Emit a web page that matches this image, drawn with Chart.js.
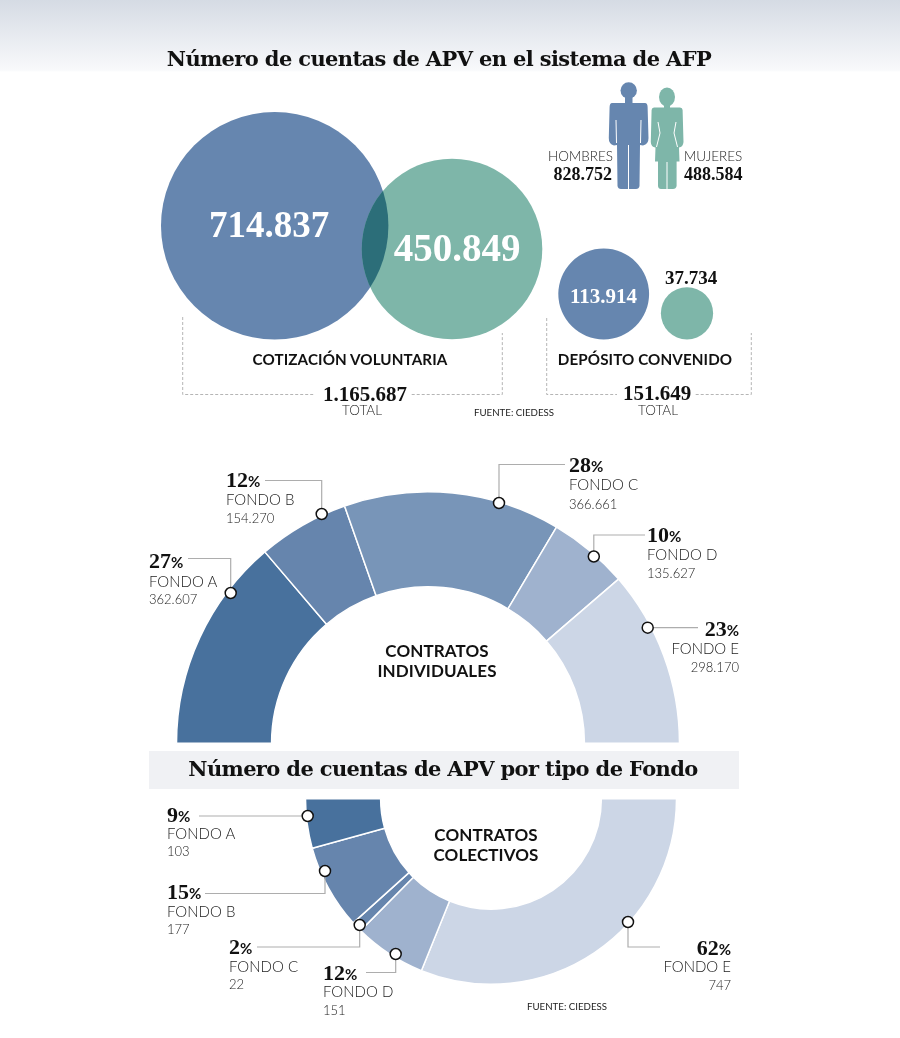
<!DOCTYPE html>
<html lang="es">
<head>
  <meta charset="UTF-8" />
  <title>Cuentas de APV</title>
  <script src="https://cdn.jsdelivr.net/npm/chart.js"></script>
  <style>
    html, body { margin: 0; padding: 0; background: #fff; }
    #page { position: relative; width: 900px; height: 1038px; overflow: hidden;
            background: linear-gradient(#d5dbe4 0, #f8f9fb 70px, #fff 72px) no-repeat; background-size: 100% 72px; }
    #band { position: absolute; left: 149px; top: 751px; width: 590px; height: 38px; background: #f0f1f4; }
    canvas { position: absolute; }
    .t { position: absolute; white-space: nowrap; line-height: 1; color: #111; font-family: Lato, sans-serif; }
    .title { font-family: "DejaVu Serif", serif; font-weight: 700; font-size: 21px; letter-spacing: -0.63px; }
    .num { font-family: "Liberation Serif", serif; font-weight: 700; font-variant-numeric: oldstyle-nums; }
    .head { font-weight: 700; font-size: 15.2px; letter-spacing: 0.1px; }
    .light { font-weight: 300; font-size: 15px; color: #222; }
    .small { font-weight: 400; font-size: 9.7px; color: #222; }
    .pct { font-family: "Liberation Serif", serif; font-weight: 700; font-size: 22px; }
    .pct small { font-family: Lato, sans-serif; font-size: 15px; }
  </style>
</head>
<body>
<div id="page">
  <div id="band"></div>
  <canvas id="fondosInd" width="506" height="253" style="left:175px;top:490.5px"></canvas>
  <canvas id="fondosCol" width="374" height="187" style="left:304px;top:797.5px"></canvas>
  <canvas id="circulos" width="900" height="1038" style="left:0;top:0"></canvas>
  <div id="textos"></div>
</div>

<script>
  // datos
  const cotizacion = [714837, 450849];
  const deposito = [113914, 37734];
  const totales = [1165687, 151649];
  const generos = [828752, 488584];
  const fondos = ['FONDO A', 'FONDO B', 'FONDO C', 'FONDO D', 'FONDO E'];
  const individuales = [362607, 154270, 366661, 135627, 298170];
  const pctIndividuales = [27, 12, 28, 10, 23];
  const colectivos = [103, 177, 22, 151, 747];
  const pctColectivos = [9, 15, 2, 12, 62];

  // colores y posiciones
  const azul = '#6686af', verde = '#7eb6a9', cruce = '#2c6e79';
  const coloresInd = ['#48719d', '#6685ad', '#7895b8', '#9fb2ce', '#ccd6e6'];
  const coloresCol = ['#ccd6e6', '#9fb2ce', '#6685ad', '#6685ad', '#48719d'];
  const escalaRadio = 113.7 / Math.sqrt(714837);
  const centros = [[274.7, 225.7], [452, 249], [603.7, 294], [687, 313.3]];

  const fmt = n => String(n).replace(/\B(?=(\d{3})+$)/g, '.');

  function anillo(id, valores, colores, rotacion, corte) {
    new Chart(document.getElementById(id), {
      type: 'doughnut',
      data: { labels: fondos, datasets: [{ data: valores, backgroundColor: colores, borderColor: '#fff', borderWidth: 1.5 }] },
      options: {
        responsive: false, animation: false, events: [],
        rotation: rotacion, circumference: 180, cutout: corte,
        plugins: { legend: { display: false }, tooltip: { enabled: false } }
      }
    });
  }
  anillo('fondosInd', individuales, coloresInd, -90, '62.2%');
  // el anillo de abajo va de derecha a izquierda, por eso se invierte
  anillo('fondosCol', colectivos.slice().reverse(), coloresCol, 90, '59.5%');

  // lineas punteadas, guias de fondos y siluetas
  const puntos = [[230.7, 593], [321.7, 514], [499, 503], [593.8, 556.5], [647.7, 627.7],
                  [307.7, 816], [325, 871], [359.7, 925], [395.7, 954], [628, 922]];
  const guias = [
    [[188, 558.5], [230.7, 558.5], [230.7, 593]],
    [[265, 480.5], [321.7, 480.5], [321.7, 514]],
    [[499, 503], [499, 464.5], [565, 464.5]],
    [[593.8, 556.5], [593.8, 535], [645, 535]],
    [[647.7, 627.7], [698, 627.7]],
    [[199, 816], [307.7, 816]],
    [[325, 871], [325, 893.5], [205, 893.5]],
    [[359.7, 925], [359.7, 947], [257, 947]],
    [[395.7, 954], [395.7, 972.5], [366, 972.5]],
    [[628, 922], [628, 947], [660, 947]]
  ];
  const punteadas = [
    [[182.7, 317], [182.7, 394.5], [314, 394.5]],
    [[411.7, 394.5], [502.3, 394.5], [502.3, 333]],
    [[546.7, 318], [546.7, 394.5], [617, 394.5]],
    [[695.7, 394.5], [751.3, 394.5], [751.3, 333]]
  ];

  function trazo(ctx, pts) {
    ctx.beginPath();
    pts.forEach((p, i) => i ? ctx.lineTo(p[0], p[1]) : ctx.moveTo(p[0], p[1]));
    ctx.stroke();
  }

  function siluetas(ctx) {
    // hombre
    ctx.fillStyle = azul;
    ctx.beginPath(); ctx.arc(628.7, 90.5, 8.2, 0, Math.PI * 2); ctx.fill();
    ctx.fillRect(625, 96, 7.5, 9);
    ctx.fill(new Path2D('M612 103 L645 103 Q647.5 103 647.6 107 L648.5 138 Q648.6 144 643 145.5 L640 145 L639.5 186 Q639 189 636 189 L621 189 Q618 189 617.5 186 L617 145 L614 145.5 Q608.6 144 608.8 138 L609.6 107 Q609.8 103 612 103 Z'));
    ctx.strokeStyle = '#fff'; ctx.lineWidth = 1;
    trazo(ctx, [[616, 120], [616.5, 143]]);
    trazo(ctx, [[641, 120], [640.5, 143]]);
    trazo(ctx, [[628.5, 145], [628.5, 189]]);
    // mujer
    ctx.fillStyle = verde;
    ctx.beginPath(); ctx.ellipse(667, 97, 8, 9.5, 0, 0, Math.PI * 2); ctx.fill();
    ctx.fillRect(664, 104, 6, 5);
    ctx.fill(new Path2D('M654 107.5 L680 107.5 Q682.5 107.5 682.6 110 L683.5 142 Q683 147 679 147.5 L679.5 161.5 L676.6 161.5 L676.6 186 Q676 189 673 189 L661 189 Q658.3 189 658 186 L658 161.5 L655 161.5 L655.5 147.5 Q651 147 650.8 142 L651.6 110 Q651.8 107.5 654 107.5 Z'));
    trazo(ctx, [[658, 122], [660, 133], [656.5, 147]]);
    trazo(ctx, [[676, 122], [674, 133], [677.5, 147]]);
    trazo(ctx, [[667, 162], [667, 189]]);
  }

  const extras = {
    id: 'extras',
    afterDatasetsDraw(chart) {
      const ctx = chart.ctx;
      // interseccion de los dos circulos grandes
      const [a, b] = chart.getDatasetMeta(0).data;
      const ra = a.options.radius, rb = b.options.radius;
      ctx.save();
      ctx.beginPath(); ctx.arc(a.x, a.y, ra, 0, Math.PI * 2); ctx.clip();
      ctx.fillStyle = cruce;
      ctx.beginPath(); ctx.arc(b.x, b.y, rb, 0, Math.PI * 2); ctx.fill();
      ctx.restore();

      ctx.save();
      ctx.strokeStyle = '#b5b5b5'; ctx.lineWidth = 1; ctx.setLineDash([3, 2]);
      punteadas.forEach(p => trazo(ctx, p));
      ctx.setLineDash([]);
      ctx.strokeStyle = '#adadad'; ctx.lineWidth = 1.2;
      guias.forEach(p => trazo(ctx, p));
      puntos.forEach(p => {
        ctx.beginPath(); ctx.arc(p[0], p[1], 5.5, 0, Math.PI * 2);
        ctx.fillStyle = '#fff'; ctx.fill();
        ctx.strokeStyle = '#111'; ctx.lineWidth = 1.5; ctx.stroke();
      });
      siluetas(ctx);
      ctx.restore();
    }
  };

  const valoresCirculos = cotizacion.concat(deposito);
  new Chart(document.getElementById('circulos'), {
    type: 'bubble',
    data: {
      datasets: [{
        data: valoresCirculos.map((v, i) => ({ x: centros[i][0], y: centros[i][1], r: escalaRadio * Math.sqrt(v) })),
        backgroundColor: [azul, verde, azul, verde],
        borderWidth: 0, hoverRadius: 0, clip: false
      }]
    },
    options: {
      responsive: false, animation: false, events: [],
      layout: { autoPadding: false },
      scales: {
        x: { type: 'linear', display: false, min: 0, max: 900 },
        y: { type: 'linear', display: false, min: 0, max: 1038, reverse: true }
      },
      plugins: { legend: { display: false }, tooltip: { enabled: false } }
    },
    plugins: [extras]
  });

  // textos: x, y (centro vertical), alineacion, clase, estilo
  const cont = document.getElementById('textos');
  function texto(html, x, y, al, clase, estilo) {
    const el = document.createElement('div');
    el.className = 't ' + (clase || '');
    el.innerHTML = html;
    const tx = al === 'r' ? '-100%' : al === 'c' ? '-50%' : '0';
    el.style.cssText = `left:${x}px;top:${y}px;transform:translate(${tx},-50%);${estilo || ''}`;
    cont.appendChild(el);
  }

  texto('Número de cuentas de APV en el sistema de AFP', 439, 58, 'c', 'title');
  texto('Número de cuentas de APV por tipo de Fondo', 443, 768, 'c', 'title');
  texto(fmt(cotizacion[0]), 269, 224, 'c', 'num', 'font-size:37px;color:#fff');
  texto(fmt(cotizacion[1]), 457, 247, 'c', 'num', 'font-size:39px;color:#fff');
  texto(fmt(deposito[0]), 603.5, 296, 'c', 'num', 'font-size:21px;color:#fff');
  texto(fmt(deposito[1]), 691, 277, 'c', 'num', 'font-size:19px');
  texto('HOMBRES', 613, 157, 'r', 'light', 'font-size:13.5px');
  texto(fmt(generos[0]), 612, 174, 'r', 'num', 'font-size:18px');
  texto('MUJERES', 684, 157, 'l', 'light', 'font-size:13.5px');
  texto(fmt(generos[1]), 684, 174, 'l', 'num', 'font-size:18px');
  texto('COTIZACIÓN VOLUNTARIA', 350, 360, 'c', 'head');
  texto('DEPÓSITO CONVENIDO', 645, 360, 'c', 'head');
  texto(fmt(totales[0]), 365, 394, 'c', 'num', 'font-size:21px');
  texto('TOTAL', 362, 411, 'c', 'light', 'font-size:13.5px');
  texto(fmt(totales[1]), 657, 393, 'c', 'num', 'font-size:21px');
  texto('TOTAL', 658, 411, 'c', 'light', 'font-size:13.5px');
  texto('FUENTE: CIEDESS', 474, 413, 'l', 'small');
  texto('FUENTE: CIEDESS', 527, 1007, 'l', 'small');
  texto('CONTRATOS', 437, 650, 'c', 'head', 'font-size:17px');
  texto('INDIVIDUALES', 437, 670, 'c', 'head', 'font-size:17px');
  texto('CONTRATOS', 486, 834, 'c', 'head', 'font-size:17px');
  texto('COLECTIVOS', 486, 854, 'c', 'head', 'font-size:17px');

  // etiquetas de cada fondo: x, alineacion, y de las tres lineas
  const etiquetasInd = [[149, 'l', 561, 581, 599], [226, 'l', 480, 499, 518], [569, 'l', 465, 484, 504], [647, 'l', 535, 554, 573], [739, 'r', 629, 648, 667]];
  const etiquetasCol = [[167, 'l', 815, 833, 851], [167, 'l', 892, 911, 929], [229, 'l', 947, 966, 984], [323, 'l', 973, 991, 1010], [731, 'r', 948, 966, 985]];
  function etiquetas(pos, pcts, vals) {
    pos.forEach((p, i) => {
      texto(pcts[i] + '<small>%</small>', p[0], p[2], p[1], 'pct');
      texto(fondos[i], p[0], p[3], p[1], 'light');
      texto(fmt(vals[i]), p[0], p[4], p[1], 'light', 'font-size:13px');
    });
  }
  etiquetas(etiquetasInd, pctIndividuales, individuales);
  etiquetas(etiquetasCol, pctColectivos, colectivos);
</script>
</body>
</html>
